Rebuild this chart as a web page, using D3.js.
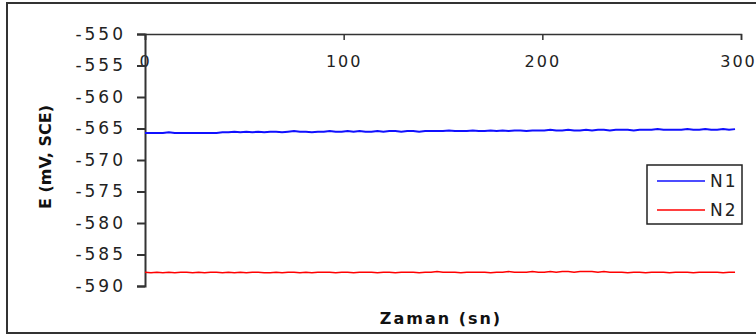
<!DOCTYPE html>
<html>
<head>
<meta charset="utf-8">
<script src="https://cdn.jsdelivr.net/npm/d3@7"></script>
<style>
  body { margin: 0; background: #fff; }
  svg { display: block; }
  .tick text { font-family: "DejaVu Sans", sans-serif; font-size: 17px; letter-spacing: 3px; fill: #222; }
  .x-axis .tick text { font-size: 16px; letter-spacing: 2px; }
  .axis-title { font-family: "DejaVu Sans", sans-serif; font-weight: bold; font-size: 16px; fill: #111; }
  .legend text { font-family: "DejaVu Sans", sans-serif; font-size: 17px; letter-spacing: 2px; fill: #222; }
</style>
</head>
<body>
<div id="container"></div>
<script>
// sample times (s), one reading every 3 s
let times = d3.range(0, 300, 3);

// N1 potential (mV vs SCE)
let n1 = [
  -565.7, -565.7, -565.7, -565.7, -565.6, -565.7, -565.7, -565.7, -565.7, -565.7,
  -565.7, -565.7, -565.7, -565.6, -565.6, -565.5, -565.6, -565.5, -565.6, -565.5,
  -565.6, -565.5, -565.5, -565.6, -565.5, -565.4, -565.5, -565.5, -565.6, -565.5,
  -565.5, -565.4, -565.5, -565.5, -565.4, -565.5, -565.4, -565.5, -565.5, -565.4,
  -565.5, -565.4, -565.4, -565.5, -565.4, -565.4, -565.5, -565.4, -565.4, -565.4,
  -565.4, -565.3, -565.4, -565.4, -565.4, -565.3, -565.4, -565.4, -565.3, -565.4,
  -565.3, -565.4, -565.3, -565.3, -565.4, -565.3, -565.3, -565.3, -565.2, -565.3,
  -565.3, -565.2, -565.3, -565.3, -565.2, -565.3, -565.2, -565.2, -565.3, -565.2,
  -565.2, -565.2, -565.3, -565.2, -565.2, -565.2, -565.1, -565.2, -565.2, -565.2,
  -565.2, -565.1, -565.2, -565.2, -565.1, -565.2, -565.2, -565.1, -565.2, -565.1
];

// N2 potential (mV vs SCE)
let n2 = [
  -587.8, -587.9, -587.8, -587.9, -587.8, -587.9, -587.8, -587.8, -587.9, -587.8,
  -587.9, -587.8, -587.8, -587.9, -587.8, -587.9, -587.8, -587.9, -587.8, -587.8,
  -587.9, -587.9, -587.8, -587.9, -587.8, -587.8, -587.9, -587.8, -587.9, -587.8,
  -587.8, -587.8, -587.9, -587.8, -587.8, -587.9, -587.8, -587.8, -587.8, -587.9,
  -587.8, -587.8, -587.9, -587.8, -587.8, -587.8, -587.9, -587.8, -587.8, -587.7,
  -587.8, -587.8, -587.8, -587.9, -587.8, -587.8, -587.8, -587.8, -587.9, -587.8,
  -587.8, -587.7, -587.8, -587.8, -587.8, -587.7, -587.8, -587.8, -587.7, -587.8,
  -587.7, -587.7, -587.8, -587.7, -587.7, -587.7, -587.8, -587.7, -587.8, -587.8,
  -587.8, -587.9, -587.8, -587.8, -587.9, -587.8, -587.8, -587.8, -587.9, -587.8,
  -587.8, -587.8, -587.9, -587.8, -587.8, -587.8, -587.8, -587.9, -587.8, -587.8
];

let seriesNames = ['N1', 'N2'];
let seriesColors = ['#1010ff', '#ff0000'];
let yTicks = [-550, -555, -560, -565, -570, -575, -580, -585, -590];
let xTicks = [0, 100, 200, 300];

let width = 756;
let height = 335;

let svg = d3.select('#container').append('svg')
  .attr('width', width).attr('height', height);

// outer frame (right side runs off the picture)
svg.append('rect')
  .attr('x', 7).attr('y', 3)
  .attr('width', 760).attr('height', 330)
  .attr('fill', 'none').attr('stroke', '#333').attr('stroke-width', 2);

let xScale = d3.scaleLinear().domain([0, 300]).range([145, 741]);
let yScale = d3.scaleLinear().domain([-590, -550]).range([286, 34]);

// plain hyphen for negatives, like the original
let fmt = d => String(d);

// x axis sits on top, ticks point down into the plot
let xAxis = svg.append('g').attr('class', 'x-axis')
  .attr('transform', 'translate(0,34)')
  .call(d3.axisBottom(xScale).tickValues(xTicks).tickSize(6).tickPadding(16).tickFormat(fmt));
xAxis.select('.domain').attr('stroke', '#333').attr('stroke-width', 1.5);
xAxis.selectAll('.tick line').attr('stroke', '#333').attr('stroke-width', 1.5);
// keep the last label inside the picture
xAxis.selectAll('.tick text').filter(d => d == 300).attr('dx', -3);

let yAxis = svg.append('g')
  .attr('transform', 'translate(145,0)')
  .call(d3.axisLeft(yScale).tickValues(yTicks).tickSize(8).tickPadding(11).tickFormat(fmt));
yAxis.select('.domain').attr('stroke', '#333').attr('stroke-width', 2);
yAxis.selectAll('.tick line').attr('stroke', '#333').attr('stroke-width', 2);

[n1, n2].forEach((values, i) => {
  let line = d3.line()
    .x((d, j) => xScale(times[j]))
    .y(d => yScale(d));
  svg.append('path')
    .datum(values)
    .attr('fill', 'none')
    .attr('stroke', seriesColors[i])
    .attr('stroke-width', i == 0 ? 2 : 1.5)
    .attr('d', line);
});

svg.append('text').attr('class', 'axis-title')
  .attr('text-anchor', 'middle')
  .attr('transform', 'translate(51,157) rotate(-90)')
  .text('E (mV, SCE)');

svg.append('text').attr('class', 'axis-title')
  .attr('text-anchor', 'middle')
  .attr('x', 441).attr('y', 324)
  .attr('letter-spacing', 2)
  .text('Zaman (sn)');

// legend
let legend = svg.append('g').attr('class', 'legend');
legend.append('rect')
  .attr('x', 647).attr('y', 165).attr('width', 95).attr('height', 59)
  .attr('fill', '#fff').attr('stroke', '#222').attr('stroke-width', 1.5);
seriesNames.forEach((name, i) => {
  let y = 181 + i * 29;
  legend.append('line')
    .attr('x1', 657).attr('x2', 705).attr('y1', y).attr('y2', y)
    .attr('stroke', seriesColors[i]).attr('stroke-width', 1.5);
  legend.append('text')
    .attr('x', 710).attr('y', y + 6)
    .text(name);
});
</script>
</body>
</html>
